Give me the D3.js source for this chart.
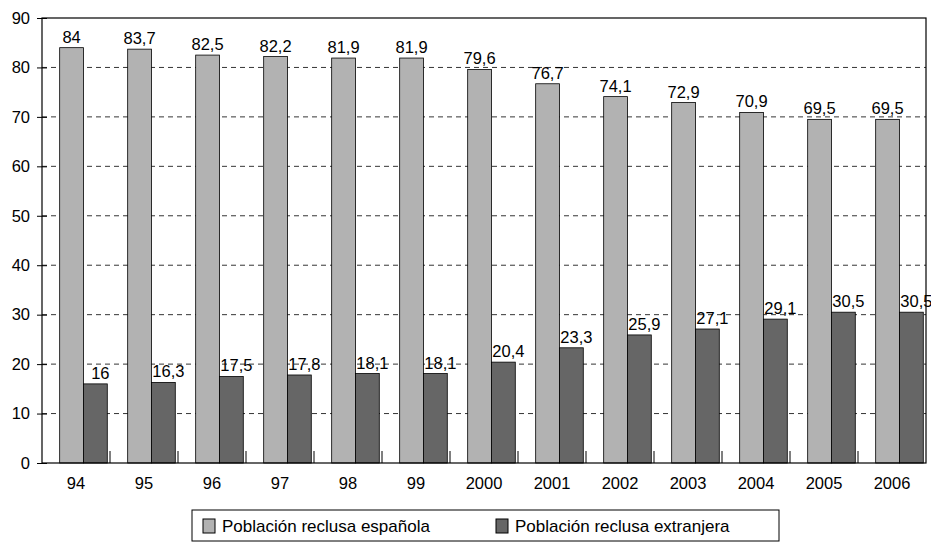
<!DOCTYPE html>
<html><head><meta charset="utf-8">
<script src="https://cdn.jsdelivr.net/npm/d3@7"></script>
<style>body{margin:0;background:#fff}svg{font-family:Arial,"Liberation Sans",sans-serif}</style>
</head><body>
<script>
const years = ["94","95","96","97","98","99","2000","2001","2002","2003","2004","2005","2006"];
const espanola = [84,83.7,82.5,82.2,81.9,81.9,79.6,76.7,74.1,72.9,70.9,69.5,69.5];
const extranjera = [16,16.3,17.5,17.8,18.1,18.1,20.4,23.3,25.9,27.1,29.1,30.5,30.5];
const yTicks = [0,10,20,30,40,50,60,70,80,90];

const W = 931, H = 542, m = {l:42, r:5, t:18, b:79};
const svg = d3.select("body").append("svg").attr("width", W).attr("height", H);
const x = d3.scaleBand().domain(years).range([m.l, W - m.r]);
const y = d3.scaleLinear().domain([0,90]).range([H - m.b, m.t]);
const bw = x.bandwidth() * 0.35, off = x.bandwidth() * 0.26;
const fmt = v => String(v).replace(".", ",");

// gridlines
svg.selectAll(".grid").data(yTicks.slice(1, -1)).join("line")
  .attr("x1", m.l).attr("x2", W - m.r).attr("y1", y).attr("y2", y)
  .attr("stroke", "#000").attr("stroke-dasharray", "5,4").attr("stroke-width", 0.8);

const g = svg.selectAll(".cat").data(years).join("g").attr("transform", d => `translate(${x(d)},0)`);
g.append("rect").attr("x", off).attr("width", bw)
  .attr("y", (d,i) => y(espanola[i])).attr("height", (d,i) => y(0) - y(espanola[i]))
  .attr("fill", "#b2b2b2").attr("stroke", "#000").attr("stroke-width", 0.8);
g.append("rect").attr("x", off + bw).attr("width", bw)
  .attr("y", (d,i) => y(extranjera[i])).attr("height", (d,i) => y(0) - y(extranjera[i]))
  .attr("fill", "#666").attr("stroke", "#000").attr("stroke-width", 0.8);
g.append("text").attr("x", off + bw/2).attr("y", (d,i) => y(espanola[i]) - 5)
  .attr("text-anchor", "middle").attr("font-size", 16.5).text((d,i) => fmt(espanola[i]));
g.append("text").attr("x", off + bw*1.5 + 5).attr("y", (d,i) => y(extranjera[i]) - 5)
  .attr("text-anchor", "middle").attr("font-size", 16.5).text((d,i) => fmt(extranjera[i]));

// frame
svg.append("rect").attr("x", m.l).attr("y", m.t).attr("width", W - m.r - m.l).attr("height", y(0) - m.t)
  .attr("fill", "none").attr("stroke", "#000").attr("stroke-width", 1.2);

// y axis
const ya = svg.append("g").attr("transform", `translate(${m.l},0)`)
  .call(d3.axisLeft(y).tickValues(yTicks).tickSize(5));
ya.select(".domain").remove();
ya.selectAll("line").attr("x1", -5).attr("x2", 5).attr("stroke", "#000");
ya.selectAll("text").attr("font-size", 16.5).attr("x", -12).attr("fill", "#000");

// x axis
const xa = svg.append("g").attr("transform", `translate(0,${y(0)})`)
  .call(d3.axisBottom(x).tickSize(0));
xa.select(".domain").remove();
xa.selectAll("text").attr("font-size", 16.5).attr("dy", "1.4em").attr("fill", "#000");
svg.selectAll(".xt").data(years.slice(1)).join("line")
  .attr("x1", d => x(d)).attr("x2", d => x(d)).attr("y1", y(0)).attr("y2", y(0) - 12)
  .attr("stroke", "#000");

// legend
const lg = svg.append("g");
lg.append("rect").attr("x", 192).attr("y", 510).attr("width", 587).attr("height", 31)
  .attr("fill", "#fff").attr("stroke", "#000");
const items = [["Población reclusa española", "#b2b2b2", 203], ["Población reclusa extranjera", "#666", 496]];
items.forEach(([t, c, lx]) => {
  lg.append("rect").attr("x", lx).attr("y", 519).attr("width", 12).attr("height", 14)
    .attr("fill", c).attr("stroke", "#000");
  lg.append("text").attr("x", lx + 19).attr("y", 532).attr("font-size", 17).text(t);
});
</script>
</body></html>
